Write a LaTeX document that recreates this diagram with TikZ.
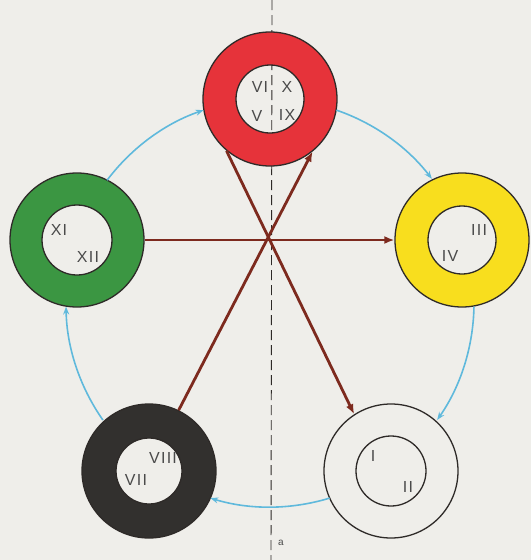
\documentclass[tikz,border=0pt]{standalone}
\usepackage{fontspec}
\setmainfont{Liberation Sans}[LetterSpace=8]
\usetikzlibrary{arrows.meta,calc}
\definecolor{paper}{HTML}{EFEEEA}
\definecolor{cred}{HTML}{E6333A}
\definecolor{cgreen}{HTML}{3B9642}
\definecolor{cyellow}{HTML}{F8DE1E}
\definecolor{cblack}{HTML}{32302E}
\definecolor{edge}{HTML}{2E2A28}
\definecolor{brown}{HTML}{7D2A1E}
\definecolor{sky}{HTML}{5FB9DC}
\definecolor{txt}{HTML}{4A4A4A}
\tikzset{
  ring/.style={circle, draw=edge, line width=1.3pt, minimum size=134pt, inner sep=0pt},
  lbl/.style={text=txt, font=\fontsize{16}{16}\selectfont, inner sep=0pt},
  axis/.style={draw=edge, line width=0.9pt, dash pattern=on 10pt off 5pt},
  brownarrow/.style={draw=brown, line width=2.8pt, -{Latex[length=10pt,width=8pt]}},
  brownline/.style={draw=brown, line width=2.8pt},
  skyarrow/.style={draw=sky, line width=1.6pt, -{Stealth[length=8pt,width=6pt]}}
}
\begin{document}
\begin{tikzpicture}[x=1pt,y=1pt]
\useasboundingbox (0,0) rectangle (531,-560);
\fill[paper] (0,0) rectangle (531,-560);

% vertical dashed axis
\coordinate (atop) at (272,0);
\coordinate (abot) at (271,-560);
\draw[axis] (atop) -- (abot);
\node[text=txt, font=\fontsize{10}{10}\selectfont, inner sep=0pt] (a) at (281,-543) {a};

% ring centres
\coordinate (O) at (270,-303);
\coordinate (X) at (268,-240);

% annulus fills
\fill[cred, even odd rule] (270,-99) circle[radius=67] circle[radius=34];
\fill[cyellow, even odd rule] (462,-240) circle[radius=67] circle[radius=34];
\fill[cblack, even odd rule] (149,-471) circle[radius=67] circle[radius=33];
\fill[cgreen, even odd rule] (77,-240) circle[radius=67] circle[radius=35];

% rings
\node[ring] (red) at (270,-99) {};
\node[ring] (yellow) at (462,-240) {};
\node[ring] (white) at (391,-471) {};
\node[ring] (black) at (149,-471) {};
\node[ring] (green) at (77,-240) {};

% inner circles
\draw[edge, line width=1.3pt] (red.center) circle[radius=34];
\draw[edge, line width=1.3pt] (yellow.center) circle[radius=34];
\draw[edge, line width=1.3pt] (white.center) circle[radius=35];
\draw[edge, line width=1.3pt] (black.center) circle[radius=33];
\draw[edge, line width=1.3pt] (green.center) circle[radius=35];

% labels
\node[lbl] (t6) at (260,-87) {VI};
\node[lbl] (t10) at (287,-87) {X};
\node[lbl] (t5) at (257,-116) {V};
\node[lbl] (t9) at (287,-115) {IX};
\node[lbl] (t11) at (59,-230) {XI};
\node[lbl] (t12) at (88,-257) {XII};
\node[lbl] (t3) at (479,-230) {III};
\node[lbl] (t4) at (450,-256) {IV};
\node[lbl] (t8) at (163,-458) {VIII};
\node[lbl] (t7) at (136,-480) {VII};
\node[lbl] (t1) at (373,-456) {I};
\node[lbl] (t2) at (408,-487) {II};

% sky-blue cycle arrows
\draw[skyarrow] ($(O)+(71:204)$) arc[start angle=71, end angle=37.5, radius=204];
\draw[skyarrow] ($(O)+(-1:204)$) arc[start angle=-1, end angle=-35, radius=204];
\draw[skyarrow] ($(O)+(-73:204)$) arc[start angle=-73, end angle=-107, radius=204];
\draw[skyarrow] ($(O)+(215:204)$) arc[start angle=215, end angle=181, radius=204];
\draw[skyarrow] ($(O)+(143:204)$) arc[start angle=143, end angle=109, radius=204];

% brown arrows through the centre
\draw[brownarrow] (green.east) -- (yellow.west);
\draw[brownarrow] (black.64) -- (red.-51);
\draw[brownarrow] (red.230) -- (white.123);
\end{tikzpicture}
\end{document}
